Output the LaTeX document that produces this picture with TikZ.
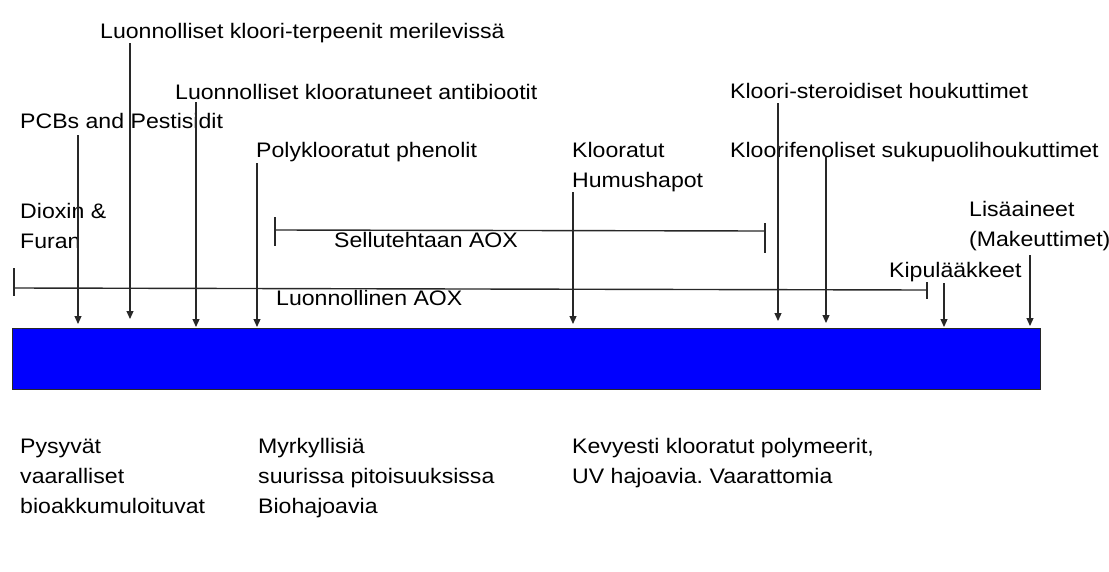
\documentclass[tikz,border=0pt]{standalone}
\usepackage{fontspec}
\setmainfont{Liberation Sans}[FakeStretch=1.1]
\usetikzlibrary{arrows.meta}
\definecolor{barblue}{RGB}{0,0,255}
\definecolor{ink}{RGB}{40,40,40}
\frenchspacing
\begin{document}
\begin{tikzpicture}[x=1pt,y=-1pt,
  lbl/.style={anchor=base west,inner sep=0pt,align=left,font=\fontsize{21}{30}\selectfont\frenchspacing,text=black},
  pointer/.style={draw=ink,line width=1.2pt,-{Triangle[length=8pt,width=7pt]}},
  spanline/.style={draw=ink,line width=1.4pt},
  spantick/.style={draw=ink,line width=2pt},
  barbox/.style={draw=ink,line width=1.2pt,fill=barblue,anchor=north west,inner sep=0pt,minimum width=1028pt,minimum height=61pt}]
\useasboundingbox (0,0) rectangle (1109,571);
% bar
\node[barbox] (bar) at (12,328) {};
% labels top (multi-line nodes are placed by the baseline of their last line)
\node[lbl] (terp) at (100,38) {Luonnolliset kloori-terpeenit merilevissä};
\node[lbl] (anti) at (175,99) {Luonnolliset klooratuneet antibiootit};
\node[lbl] (pcb) at (20,128) {PCBs and Pestisidit};
\node[lbl] (poly) at (256,157) {Polyklooratut phenolit};
\node[lbl] (diox) at (20,248) {Dioxin \&\\Furan};
\node[lbl] (sell) at (334,247) {Sellutehtaan AOX};
\node[lbl] (luao) at (276,305) {Luonnollinen AOX};
\node[lbl] (humu) at (572,187) {Klooratut\\Humushapot};
\node[lbl] (ster) at (730,98) {Kloori-steroidiset houkuttimet};
\node[lbl] (feno) at (730,157) {Kloorifenoliset sukupuolihoukuttimet};
\node[lbl] (lisa) at (969,246) {Lisäaineet\\(Makeuttimet)};
\node[lbl] (kipu) at (889,277) {Kipulääkkeet};
% labels bottom
\node[lbl] (pysy) at (20,513) {Pysyvät\\vaaralliset\\bioakkumuloituvat};
\node[lbl] (myrk) at (258,513) {Myrkyllisiä\\suurissa pitoisuuksissa\\Biohajoavia};
\node[lbl] (kevy) at (572,483) {Kevyesti klooratut polymeerit,\\UV hajoavia. Vaarattomia};
% arrow coordinates
\coordinate (pcbS) at (78,135);   \coordinate (pcbE) at (78,324);
\coordinate (terS) at (130,43);   \coordinate (terE) at (130,319);
\coordinate (antS) at (196,102);  \coordinate (antE) at (196,327);
\coordinate (polS) at (257,163);  \coordinate (polE) at (257,327);
\coordinate (humS) at (573,192);  \coordinate (humE) at (573,324);
\coordinate (steS) at (778,103);  \coordinate (steE) at (778,321);
\coordinate (fenS) at (826,157);  \coordinate (fenE) at (826,323);
\coordinate (kipS) at (944,283);  \coordinate (kipE) at (944,327);
\coordinate (lisS) at (1030,255); \coordinate (lisE) at (1030,326);
% ranges
\coordinate (selA) at (275,230); \coordinate (selB) at (765,231);
\coordinate (luoA) at (14,288);  \coordinate (luoB) at (927,290);
\draw[spanline] (selA) -- (selB);
\draw[spantick] (275,217) -- (275,246);
\draw[spantick] (765,223) -- (765,253);
\draw[spanline] (luoA) -- (luoB);
\draw[spantick] (14,268) -- (14,296);
\draw[spantick] (927,282) -- (927,299);
% arrows
\foreach \a in {pcb,ter,ant,pol,hum,ste,fen,kip,lis}{
  \draw[pointer] (\a S) -- (\a E);
}
\end{tikzpicture}
\end{document}
